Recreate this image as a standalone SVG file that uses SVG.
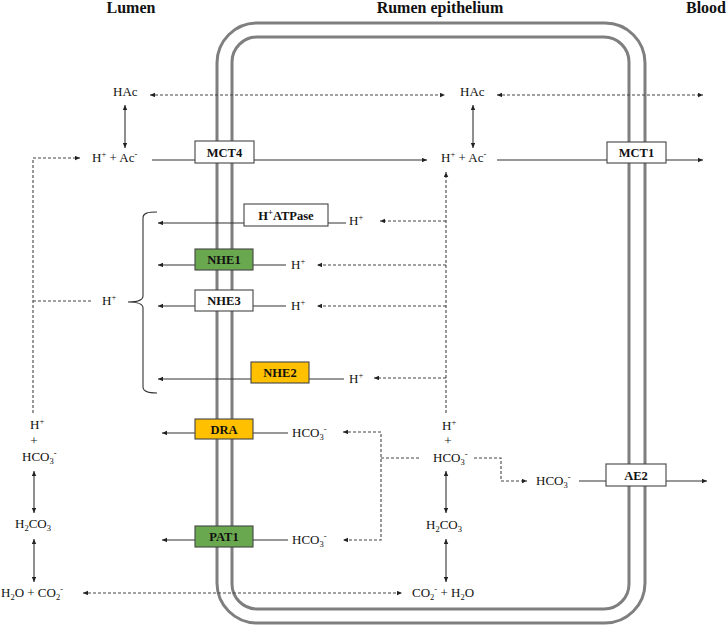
<svg xmlns="http://www.w3.org/2000/svg" width="727" height="626" viewBox="0 0 727 626">
<defs>
<marker id="ah" markerUnits="userSpaceOnUse" markerWidth="6" markerHeight="5" refX="5" refY="2.2" orient="auto-start-reverse">
<path d="M0,0 L5,2.2 L0,4.4 z" fill="#222"/>
</marker>
<style>
text{font-family:"Liberation Serif","Times New Roman",serif;fill:#111;}
.t{font-size:13px;}
.title{font-size:16px;font-weight:bold;}
.b{font-size:12.5px;font-weight:bold;text-anchor:middle;}
.sup{font-size:8.5px;}
.mem{fill:none;stroke:#7f7f7f;stroke-width:3;}
.s{fill:none;stroke:#333;stroke-width:1.1;}
.d{fill:none;stroke:#444;stroke-width:1.1;stroke-dasharray:3,2;}
.box{stroke:#444;stroke-width:1.1;}
.w{fill:#fff;}
.g{fill:#6aa84f;}
.y{fill:#ffc000;}
</style>
</defs>
<rect width="727" height="626" fill="#fff"/>
<g id="membranes">
<rect class="mem" x="217" y="23" width="428" height="600" rx="40"/>
<rect class="mem" x="232" y="37" width="397" height="572" rx="25"/>
</g>
<g id="titles">
<text class="title" x="131" y="13" text-anchor="middle">Lumen</text>
<text class="title" x="440" y="13" text-anchor="middle">Rumen epithelium</text>
<text class="title" x="706" y="13" text-anchor="middle">Blood</text>
</g>
<g id="connectors">
<line class="d" x1="150" y1="95" x2="445" y2="95" marker-start="url(#ah)" marker-end="url(#ah)"/>
<line class="d" x1="497" y1="95" x2="703" y2="95" marker-start="url(#ah)" marker-end="url(#ah)"/>
<line class="s" x1="125" y1="105" x2="125" y2="148" marker-start="url(#ah)" marker-end="url(#ah)"/>
<line class="s" x1="473" y1="105" x2="473" y2="148" marker-start="url(#ah)" marker-end="url(#ah)"/>
<polyline class="d" points="33,413 33,158 80,158" marker-end="url(#ah)"/>
<line class="d" x1="33" y1="301" x2="93" y2="301"/>
<line class="s" x1="152" y1="160" x2="427" y2="160" marker-end="url(#ah)"/>
<line class="s" x1="497" y1="160" x2="703" y2="160" marker-end="url(#ah)"/>
<line class="d" x1="446" y1="413" x2="446" y2="172" marker-end="url(#ah)"/>
<line class="d" x1="446" y1="221" x2="380" y2="221" marker-end="url(#ah)"/>
<line class="d" x1="446" y1="265" x2="317" y2="265" marker-end="url(#ah)"/>
<line class="d" x1="446" y1="306" x2="317" y2="306" marker-end="url(#ah)"/>
<line class="d" x1="446" y1="378" x2="374" y2="378" marker-end="url(#ah)"/>
<line class="s" x1="346" y1="223" x2="158" y2="223" marker-end="url(#ah)"/>
<line class="s" x1="286" y1="265" x2="158" y2="265" marker-end="url(#ah)"/>
<line class="s" x1="286" y1="306" x2="158" y2="306" marker-end="url(#ah)"/>
<line class="s" x1="344" y1="379" x2="158" y2="379" marker-end="url(#ah)"/>
<line class="s" x1="288" y1="433" x2="162" y2="433" marker-end="url(#ah)"/>
<line class="s" x1="288" y1="540" x2="162" y2="540" marker-end="url(#ah)"/>
<polyline class="d" points="343,432 381,432 381,540 343,540" marker-start="url(#ah)" marker-end="url(#ah)"/>
<line class="d" x1="381" y1="458" x2="419" y2="458"/>
<polyline class="d" points="474,458 501,458 501,481 527,481" marker-end="url(#ah)"/>
<line class="s" x1="579" y1="481" x2="707" y2="481" marker-end="url(#ah)"/>
<line class="s" x1="446" y1="471" x2="446" y2="513" marker-start="url(#ah)" marker-end="url(#ah)"/>
<line class="s" x1="446" y1="539" x2="446" y2="582" marker-start="url(#ah)" marker-end="url(#ah)"/>
<line class="s" x1="34" y1="471" x2="34" y2="513" marker-start="url(#ah)" marker-end="url(#ah)"/>
<line class="s" x1="34" y1="539" x2="34" y2="582" marker-start="url(#ah)" marker-end="url(#ah)"/>
<line class="d" x1="83" y1="593" x2="402" y2="593" marker-start="url(#ah)" marker-end="url(#ah)"/>
<path class="s" d="M157,212 C148,212 143,213 143,218 L143,296 C143,300 138,302 128,302 C138,302 143,304 143,308 L143,387 C143,391 148,393 157,393"/>
</g>
<g id="MCT4"><rect class="box w" x="195" y="141" width="59" height="22"/><text class="b" x="224.5" y="156.5">MCT4</text></g>
<g id="MCT1"><rect class="box w" x="607" y="142" width="59" height="21"/><text class="b" x="636.5" y="157">MCT1</text></g>
<g id="HATPase"><rect class="box w" x="244" y="204" width="84" height="22"/><text class="b" x="286" y="219.5">H<tspan class="sup" dy="-4.5">+</tspan><tspan dy="4.5">ATPase</tspan></text></g>
<g id="NHE1"><rect class="box g" x="195" y="249" width="58" height="21"/><text class="b" x="224" y="264">NHE1</text></g>
<g id="NHE3"><rect class="box w" x="195" y="290" width="58" height="21"/><text class="b" x="224" y="305">NHE3</text></g>
<g id="NHE2"><rect class="box y" x="251" y="362" width="58" height="21"/><text class="b" x="280" y="377">NHE2</text></g>
<g id="DRA"><rect class="box y" x="195" y="419" width="58" height="20"/><text class="b" x="224" y="433.5">DRA</text></g>
<g id="PAT1"><rect class="box g" x="195" y="526" width="58" height="21"/><text class="b" x="224" y="541">PAT1</text></g>
<g id="AE2"><rect class="box w" x="606" y="464" width="60" height="22"/><text class="b" x="636" y="479.5">AE2</text></g>
<g id="lumen-species">
<text class="t" x="113" y="96">HAc</text>
<text class="t" x="92" y="162">H<tspan class="sup" dy="-5">+</tspan><tspan dy="5"> + Ac</tspan><tspan class="sup" dy="-5">-</tspan></text>
<text class="t" x="102" y="305">H<tspan class="sup" dy="-5">+</tspan></text>
<text class="t" x="30" y="429">H<tspan class="sup" dy="-5">+</tspan></text>
<text class="t" x="34" y="445" text-anchor="middle">+</text>
<text class="t" x="22" y="461">HCO<tspan class="sup" dy="3">3</tspan><tspan class="sup" dy="-8">-</tspan></text>
<text class="t" x="15" y="528">H<tspan class="sup" dy="3">2</tspan><tspan dy="-3">CO</tspan><tspan class="sup" dy="3">3</tspan></text>
<text class="t" x="1" y="597">H<tspan class="sup" dy="3">2</tspan><tspan dy="-3">O + CO</tspan><tspan class="sup" dy="3">2</tspan><tspan class="sup" dy="-8">-</tspan></text>
</g>
<g id="cell-species">
<text class="t" x="460" y="96">HAc</text>
<text class="t" x="441" y="162">H<tspan class="sup" dy="-5">+</tspan><tspan dy="5"> + Ac</tspan><tspan class="sup" dy="-5">-</tspan></text>
<text class="t" x="349" y="225">H<tspan class="sup" dy="-5">+</tspan></text>
<text class="t" x="291" y="269">H<tspan class="sup" dy="-5">+</tspan></text>
<text class="t" x="291" y="310">H<tspan class="sup" dy="-5">+</tspan></text>
<text class="t" x="349" y="383">H<tspan class="sup" dy="-5">+</tspan></text>
<text class="t" x="292" y="437">HCO<tspan class="sup" dy="3">3</tspan><tspan class="sup" dy="-8">-</tspan></text>
<text class="t" x="292" y="544">HCO<tspan class="sup" dy="3">3</tspan><tspan class="sup" dy="-8">-</tspan></text>
<text class="t" x="442" y="430">H<tspan class="sup" dy="-5">+</tspan></text>
<text class="t" x="448" y="445" text-anchor="middle">+</text>
<text class="t" x="433" y="462">HCO<tspan class="sup" dy="3">3</tspan><tspan class="sup" dy="-8">-</tspan></text>
<text class="t" x="536" y="485">HCO<tspan class="sup" dy="3">3</tspan><tspan class="sup" dy="-8">-</tspan></text>
<text class="t" x="426" y="529">H<tspan class="sup" dy="3">2</tspan><tspan dy="-3">CO</tspan><tspan class="sup" dy="3">3</tspan></text>
<text class="t" x="412" y="597">CO<tspan class="sup" dy="3">2</tspan><tspan class="sup" dy="-8">-</tspan><tspan dy="5"> + H</tspan><tspan class="sup" dy="3">2</tspan><tspan dy="-3">O</tspan></text>
</g>
</svg>
